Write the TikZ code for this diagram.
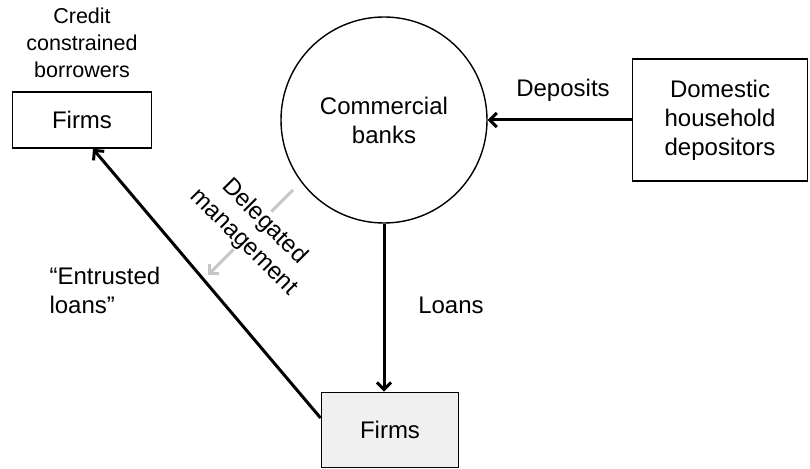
\documentclass[tikz,border=0pt]{standalone}
\usepackage{fontspec}
\setmainfont{Liberation Sans}
\usetikzlibrary{arrows.meta}
\begin{document}
\begin{tikzpicture}[x=1pt, y=1pt, >={Straight Barb[length=7pt,width=14pt]},
    every node/.style={font=\fontsize{24}{29}\selectfont, align=center},
    box/.style={draw, line width=1.8pt, inner sep=0pt},
    flow/.style={->, line width=3pt}]
\useasboundingbox (0,0) rectangle (810,468);
% agents
\node[box, minimum width=139, minimum height=56] (firmsTL) at (82,348) {Firms};
\node[font=\fontsize{21.5}{27}\selectfont] (credit) at (82,425) {Credit\\constrained\\borrowers};
\node[draw, circle, line width=1.4pt, minimum size=206] (banks) at (384,348) {Commercial\\banks};
\node[box, minimum width=175, minimum height=122] (dom) at (720,348) {Domestic\\household\\depositors};
\node[box, fill=black!6, minimum width=137, minimum height=75] (firmsB) at (390,38) {Firms};
% flows
\draw[flow] (dom.west) -- (banks.east);
\node (dep) at (563,378) {Deposits};
\draw[flow] (banks.south) -- (banks.south |- firmsB.north);
\node (loans) at (451,163) {Loans};
\draw[flow] ([yshift=12pt]firmsB.west) -- ([xshift=11pt]firmsTL.south);
\node[anchor=west, align=left] (entr) at (46,178) {``Entrusted\\loans''};
% delegated management
\coordinate (dmFrom) at (293,278);
\coordinate (dmTo) at (208,193);
\draw[flow, black!22] (dmFrom) -- (dmTo);
\node[rotate=-45, fill=white, inner sep=1pt] (deleg) at (254,236) {Delegated\\management};
\end{tikzpicture}
\end{document}
